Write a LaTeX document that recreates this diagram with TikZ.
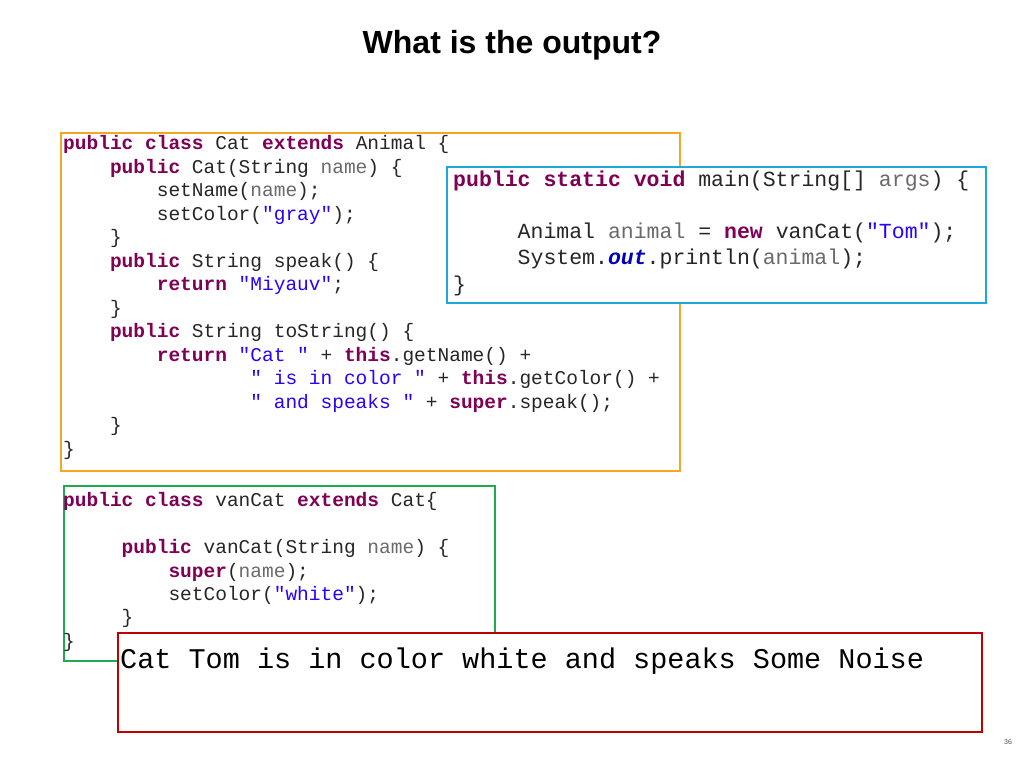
\documentclass[tikz,border=0pt]{standalone}
\usepackage{fontspec}
\setmainfont{Liberation Sans}
\newfontfamily\codefont{Liberation Mono}
\definecolor{kwc}{HTML}{7F0055}
\definecolor{stc}{HTML}{2A00FF}
\definecolor{pmc}{HTML}{6A6A6A}
\definecolor{outc}{HTML}{0000C0}
\definecolor{orng}{HTML}{F5A623}
\definecolor{bluebx}{HTML}{1EA7DA}
\definecolor{grnbx}{HTML}{1DAA50}
\definecolor{redbx}{HTML}{C00000}
\newcommand{\kw}[1]{\textcolor{kwc}{\bfseries #1}}
\newcommand{\strg}[1]{\textcolor{stc}{#1}}
\newcommand{\prm}[1]{\textcolor{pmc}{#1}}
\begin{document}
\begin{tikzpicture}[x=1pt,y=-1pt,
  cA/.style={anchor=base west,inner sep=0,font=\codefont\fontsize{19.5}{20}\selectfont,text=black!85},
  cB/.style={anchor=base west,inner sep=0,font=\codefont\fontsize{21.5}{22}\selectfont,text=black!85},
  cO/.style={anchor=base west,inner sep=0,font=\codefont\fontsize{28.5}{29}\selectfont,text=black},
  bx/.style={line width=2pt,fill=white}]
\useasboundingbox (0,0) rectangle (1024,768);
\node[font=\bfseries\fontsize{32}{34}\selectfont] (title) at (512,45) {What is the output?};
% Cat class
\node[bx,draw=orng,minimum width=619,minimum height=338,anchor=north west] (catbox) at (60,132) {};
\def\ch{11.7}
\node[cA] (a1) at (63,149) {\kw{public} \kw{class} Cat \kw{extends} Animal \{};
\node[cA] (a2) at (63+4*\ch,173) {\kw{public} Cat(String \prm{name}) \{};
\node[cA] (a3) at (63+8*\ch,196) {setName(\prm{name});};
\node[cA] (a4) at (63+8*\ch,220) {setColor(\strg{"gray"});};
\node[cA] (a5) at (63+4*\ch,243) {\}};
\node[cA] (a6) at (63+4*\ch,267) {\kw{public} String speak() \{};
\node[cA] (a7) at (63+8*\ch,290) {\kw{return} \strg{"Miyauv"};};
\node[cA] (a8) at (63+4*\ch,314) {\}};
\node[cA] (a9) at (63+4*\ch,337) {\kw{public} String toString() \{};
\node[cA] (a10) at (63+8*\ch,361) {\kw{return} \strg{"Cat "} + \kw{this}.getName() +};
\node[cA] (a11) at (63+16*\ch,384) {\strg{" is in color "} + \kw{this}.getColor() +};
\node[cA] (a12) at (63+16*\ch,408) {\strg{" and speaks "} + \kw{super}.speak();};
\node[cA] (a13) at (63+4*\ch,431) {\}};
\node[cA] (a14) at (63,455) {\}};
% main
\node[bx,draw=bluebx,minimum width=539,minimum height=136,anchor=north west] (mainbox) at (446,166) {};
\def\cb{12.9}
\node[cB] (b1) at (453,186) {\kw{public} \kw{static} \kw{void} main(String[] \prm{args}) \{};
\node[cB] (b2) at (453+5*\cb,238) {Animal \prm{animal} = \kw{new} vanCat(\strg{"Tom"});};
\node[cB] (b3) at (453+5*\cb,264) {System.\textcolor{outc}{\bfseries\itshape out}.println(\prm{animal});};
\node[cB] (b4) at (453,291) {\}};
% vanCat
\node[bx,draw=grnbx,fill=none,minimum width=431,minimum height=175,anchor=north west] (vanbox) at (63,485) {};
\node[cA] (v1) at (63,506) {\kw{public} \kw{class} vanCat \kw{extends} Cat\{};
\node[cA] (v2) at (63+5*\ch,553) {\kw{public} vanCat(String \prm{name}) \{};
\node[cA] (v3) at (63+9*\ch,577) {\kw{super}(\prm{name});};
\node[cA] (v4) at (63+9*\ch,600) {setColor(\strg{"white"});};
\node[cA] (v5) at (63+5*\ch,623) {\}};
\node[cA] (v6) at (63,647) {\}};
% output
\node[bx,draw=redbx,minimum width=864,minimum height=99,anchor=north west] (outbox) at (117,632) {};
\node[cO] (o1) at (120,668) {Cat Tom is in color white and speaks Some Noise};
\node[font=\fontsize{7}{8}\selectfont,text=black!70] (pg) at (1008,742) {36};
\end{tikzpicture}
\end{document}
